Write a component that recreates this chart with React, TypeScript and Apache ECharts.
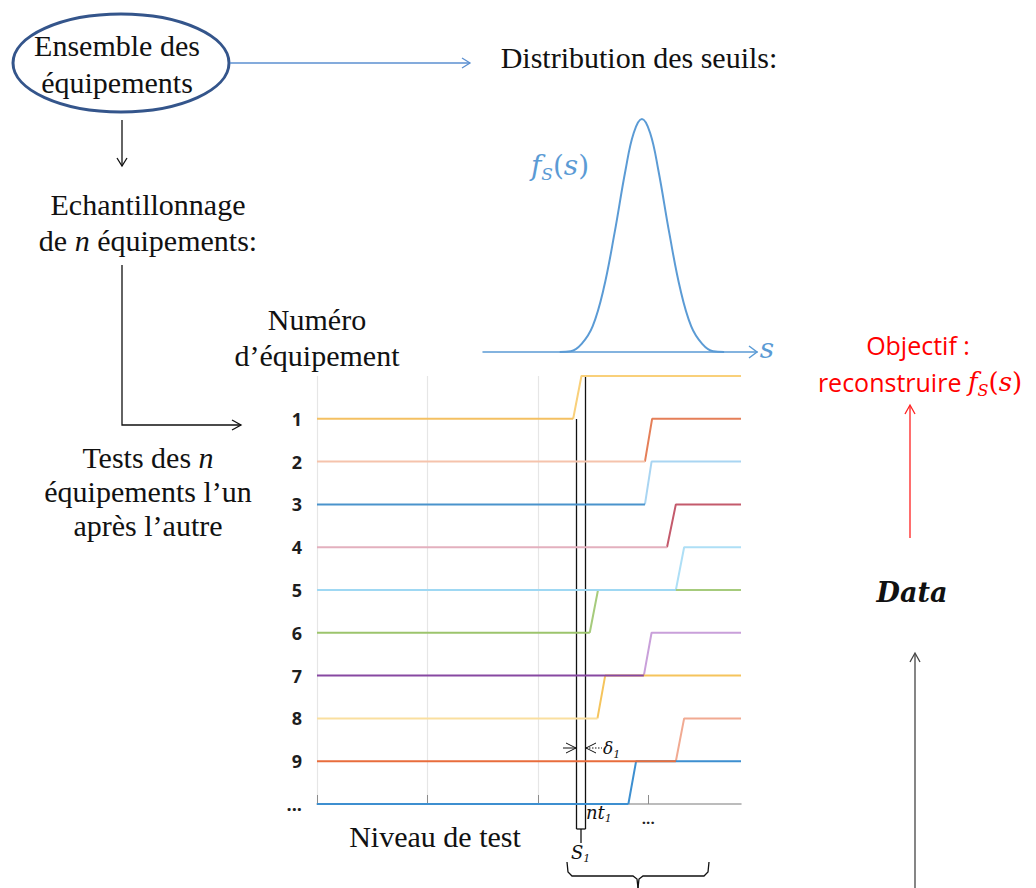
import React, { useEffect, useRef } from "react";
import * as echarts from "echarts";

// ---- Data ----
const LEVELS = ["", "1", "2", "3", "4", "5", "6", "7", "8", "9", "..."];
// test level at which each equipment starts / finishes switching state
const riseStart = [2.32, 2.97, 2.97, 3.17, 3.25, 2.47, 2.96, 2.54, 3.25, 2.82];
const riseEnd = [2.395, 3.035, 3.03, 3.25, 3.325, 2.545, 3.03, 2.61, 3.325, 2.89];
const X_MAX = 3.84;
const xGridValues = [0, 1, 2, 3];
const xTickLabels = ["", "", "", "..."];

// threshold density f_S(s)
const gaussS = [28, 32, 36, 40, 44, 48, 52, 55, 58, 61, 64, 68, 72, 76, 80, 84, 88];
const gaussF = [0, 0.003, 0.035, 0.11, 0.27, 0.51, 0.78, 0.94, 1, 0.94, 0.78, 0.51, 0.27, 0.11, 0.035, 0.003, 0];

// ---- Styles ----
const lowColors = ["#f4c062", "#f5c3ac", "#4a93cc", "#e3b0be", "#9fd8f3", "#9cc46c", "#8748a2", "#fadf9f", "#e86d3c", "#3d8fd0"];
const highColors = ["#f9d07a", "#e57f58", "#a9d5f2", "#c45a6c", "#aedff6", "#a6cb7c", "#c9a0da", "#f5c45c", "#f1aa92", "#3d8fd0"];
const SERIF = "Liberation Serif";
const MATH = "DejaVu Serif";
const BLUE = "#5b9bd5";

function buildSeries() {
  const series: any[] = [];
  LEVELS.slice(1).forEach((_, k) => {
    const row = k + 1;
    series.push({
      type: "line",
      xAxisIndex: 0,
      yAxisIndex: 0,
      data: [
        [riseStart[k], row],
        [riseEnd[k], row - 1],
        [X_MAX, row - 1],
      ],
      symbol: "none",
      lineStyle: { color: highColors[k], width: 2 },
      z: 2,
      silent: true,
    });
    series.push({
      type: "line",
      xAxisIndex: 0,
      yAxisIndex: 0,
      data: [
        [0, row],
        [riseStart[k], row],
      ],
      symbol: "none",
      lineStyle: { color: lowColors[k], width: 2 },
      z: 3,
      silent: true,
    });
  });
  series.push({
    type: "line",
    xAxisIndex: 1,
    yAxisIndex: 1,
    data: gaussS.map((s, i) => [s, gaussF[i]]),
    smooth: 0.4,
    symbol: "none",
    lineStyle: { color: BLUE, width: 2 },
    z: 3,
    silent: true,
  });
  return series;
}

function txt(x: number, y: number, text: string, extra: any = {}) {
  return {
    type: "text",
    x,
    y,
    silent: true,
    style: {
      text,
      fontFamily: SERIF,
      fontSize: 30,
      fill: "#111",
      textAlign: "center",
      textVerticalAlign: "middle",
      ...extra,
    },
  };
}

function line(x1: number, y1: number, x2: number, y2: number, stroke = "#111", lineWidth = 1.3, extra: any = {}) {
  return { type: "line", silent: true, shape: { x1, y1, x2, y2 }, style: { stroke, lineWidth, ...extra } };
}

function poly(points: number[][], stroke = "#111", lineWidth = 1.3) {
  return { type: "polyline", silent: true, shape: { points }, style: { stroke, lineWidth, fill: "none" } };
}

const italicRich = {
  i: { fontStyle: "italic", fontFamily: SERIF, fontSize: 30 },
};

function mathRich(size: number, color: string) {
  return {
    m: { fontStyle: "italic", fontFamily: MATH, fontSize: size, lineHeight: size + 6, color },
    p: { fontFamily: MATH, fontSize: size, lineHeight: size + 6, color },
    sub: { fontStyle: "italic", fontFamily: MATH, fontSize: Math.round(size * 0.62), lineHeight: Math.round(size * 0.62) + 1, verticalAlign: "bottom", color },
  };
}

const graphics: any[] = [
  // top-left ellipse
  { type: "ellipse", silent: true, shape: { cx: 121, cy: 63, rx: 108, ry: 49 }, style: { fill: "none", stroke: "#34558b", lineWidth: 3 } },
  txt(117, 45, "Ensemble des"),
  txt(117, 82, "équipements"),
  line(230, 63, 470, 63, "#5b8fd0", 1.3),
  poly([[462, 58], [470, 63], [462, 68]], "#5b8fd0", 1.3),
  txt(639, 57, "Distribution des seuils:"),
  // down arrow
  line(122, 120, 122, 166),
  poly([[117, 158], [122, 166], [127, 158]]),
  txt(148, 204, "Echantillonnage"),
  txt(148, 240, "de {i|n} équipements:", { rich: italicRich }),
  poly([[122, 265], [122, 425], [241, 425]]),
  poly([[232, 420], [241, 425], [232, 430]]),
  txt(148, 457, "Tests des {i|n}", { rich: italicRich }),
  txt(148, 491, "équipements l’un"),
  txt(148, 525, "après l’autre"),
  txt(317, 319, "Numéro"),
  txt(317, 355, "d’équipement"),
  txt(435, 836, "Niveau de test"),
  // f_S(s) label of density
  txt(560, 165, "{m|f}{sub|S}{p|(}{m|s}{p|)}", { rich: mathRich(28, BLUE), fill: BLUE }),
  poly([[749, 346], [757, 352], [749, 358]], BLUE, 1.5),
  txt(767, 348, "s", { fontFamily: MATH, fontStyle: "italic", fontSize: 28, fill: BLUE }),
  // threshold lines S1 and S1 + delta1
  line(576.5, 419, 576.5, 829, "#111", 1.3),
  line(585.5, 376, 585.5, 829, "#111", 1.3),
  line(576.5, 829, 585.5, 829, "#111", 1.3),
  line(581, 829, 581, 843, "#111", 1.3),
  // delta arrows
  line(563, 748, 576, 748, "#111", 1),
  poly([[566, 743], [576, 748], [566, 753]], "#111", 1),
  poly([[596, 743], [586, 748], [596, 753]], "#111", 1),
  line(586, 748, 602, 748, "#111", 1, { lineDash: [1.5, 1.5] }),
  txt(603, 748, "{m|δ}{sub|1}", { rich: mathRich(17, "#222"), textAlign: "left" }),
  txt(586, 812, "{m|nt}{sub|1}", { rich: mathRich(18, "#222"), textAlign: "left" }),
  txt(571, 852, "{m|S}{sub|1}", { rich: mathRich(18, "#222"), textAlign: "left" }),
  // brace
  poly([[567, 862], [568, 872], [572, 876], [633, 876], [637, 879], [638, 888]], "#111", 1.3),
  poly([[709, 862], [708, 872], [704, 876], [643, 876], [639, 879], [638, 888]], "#111", 1.3),
  // right side
  txt(918, 345, "Objectif :", { fontFamily: "Open Sans", fontSize: 25, fill: "#ff0000" }),
  txt(920, 382, "{t|reconstruire }{m|f}{sub|S}{p|(}{m|s}{p|)}", {
    fill: "#ff0000",
    rich: { t: { fontFamily: "Open Sans", fontSize: 25, lineHeight: 32, color: "#ff0000" }, ...mathRich(26, "#ff0000") },
  }),
  line(910, 538, 910, 406, "#ff2020", 1.3),
  poly([[905, 414], [910, 405], [915, 414]], "#ff2020", 1.3),
  txt(912, 592, "Data", { fontFamily: MATH, fontStyle: "italic", fontWeight: "bold", fontSize: 27, fill: "#111" }),
  line(915, 888, 915, 654, "#444", 1.3),
  poly([[910, 662], [915, 653], [920, 662]], "#444", 1.3),
];

const option: any = {
  animation: false,
  backgroundColor: "#ffffff",
  grid: [
    { left: 317, top: 376, width: 424, height: 428 },
    { left: 483, top: 119, width: 274, height: 233 },
  ],
  xAxis: [
    {
      type: "value",
      gridIndex: 0,
      min: 0,
      max: X_MAX,
      interval: 1,
      axisLine: { show: true, lineStyle: { color: "#a6a6a6", width: 1.5 } },
      axisTick: { show: true, inside: true, length: 9, customValues: xGridValues, lineStyle: { color: "#8c8c8c" } },
      axisLabel: {
        show: true,
        customValues: xGridValues,
        formatter: (v: number) => xTickLabels[xGridValues.indexOf(v)] ?? "",
        fontFamily: "Open Sans",
        fontWeight: "bold",
        fontSize: 15,
        color: "#222",
        margin: 6,
      },
      splitLine: { show: true, showMaxLine: false, lineStyle: { color: "#e6e6e6", width: 1.2 } },
    },
    {
      type: "value",
      gridIndex: 1,
      min: 0,
      max: 100,
      axisLine: { show: true, lineStyle: { color: BLUE, width: 1.5 } },
      axisTick: { show: false },
      axisLabel: { show: false },
      splitLine: { show: false },
    },
  ],
  yAxis: [
    {
      type: "category",
      gridIndex: 0,
      data: LEVELS,
      inverse: true,
      boundaryGap: false,
      axisLine: { show: false },
      axisTick: { show: false },
      splitLine: { show: false },
      axisLabel: { fontFamily: "Open Sans", fontWeight: "bold", fontSize: 18, color: "#1e1e1e", margin: 15, interval: 0 },
    },
    {
      type: "value",
      gridIndex: 1,
      min: 0,
      max: 1,
      show: false,
      splitLine: { show: false },
    },
  ],
  series: buildSeries(),
  graphic: graphics,
};

export default function App() {
  const ref = useRef<HTMLDivElement>(null);
  useEffect(() => {
    const chart = echarts.init(ref.current as HTMLDivElement, null, { renderer: "svg" });
    chart.setOption(option);
    return () => chart.dispose();
  }, []);
  return (
    <div
      ref={ref}
      style={{ position: "fixed", left: 0, top: 0, width: 1036, height: 888, background: "#fff" }}
    />
  );
}
